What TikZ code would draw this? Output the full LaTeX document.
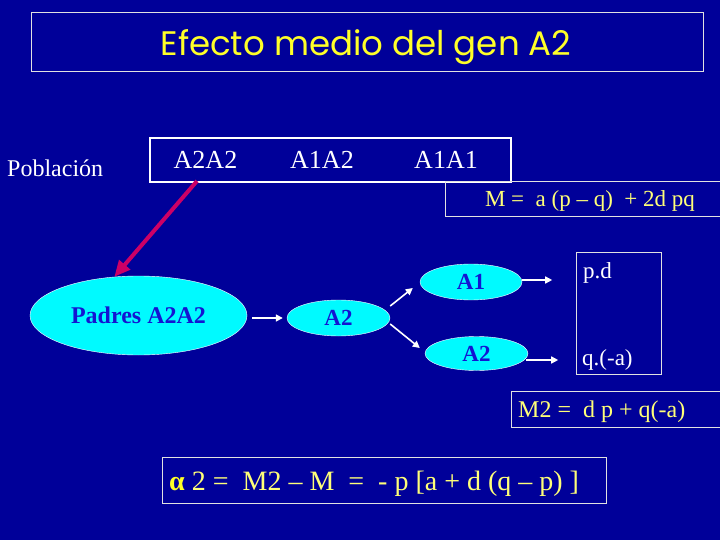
\documentclass[tikz,border=0pt]{standalone}
\usepackage{fontspec}
\setmainfont{Liberation Serif}
\newfontfamily\titlefont{Poppins}
\usetikzlibrary{shapes.geometric,arrows.meta}
\definecolor{bgblue}{RGB}{0,0,153}
\definecolor{ecyan}{RGB}{0,250,255}
\definecolor{eblue}{RGB}{20,20,210}
\definecolor{tyellow}{RGB}{255,255,40}
\definecolor{fyellow}{RGB}{255,255,120}
\definecolor{lineclr}{RGB}{225,225,225}
\definecolor{magarrow}{RGB}{204,0,102}
\newcommand{\fsz}[1]{\fontsize{#1}{#1}\selectfont}
\tikzset{
 thinbox/.style={draw=lineclr, line width=1pt, inner sep=0pt, rectangle},
 popbox/.style={draw=white, line width=2.5pt, inner sep=0pt, rectangle},
 oval/.style={ellipse, fill=ecyan, draw=white, line width=0.4pt, inner sep=0pt, text=eblue, font=\bfseries\fsz{23}},
 wtext/.style={text=white, inner sep=0pt},
 ytext/.style={text=fyellow, inner sep=0pt},
 warrow/.style={draw=white, line width=1.6pt, -{Triangle[length=7pt,width=7pt]}},
}
\begin{document}
\begin{tikzpicture}[x=1pt,y=-1pt]
\fill[bgblue] (0,0) rectangle (720,540);
\useasboundingbox (0,0) rectangle (720,540);
% title
\node[thinbox, minimum width=672pt, minimum height=59pt] (titlebox) at (367,42.5) {};
\node[text=tyellow, font=\titlefont\fsz{34}, inner sep=0pt, anchor=base] (title) at (366,56) {Efecto medio del gen A2};
% population
\node[wtext, font=\fsz{24}, anchor=base west] (pob) at (7,177) {Población};
\node[popbox, minimum width=361pt, minimum height=44pt] (popb) at (330.5,160) {};
\node[wtext, font=\fsz{26}, anchor=base] (g22) at (205.5,169) {A2A2};
\node[wtext, font=\fsz{26}, anchor=base] (g12) at (322,169) {A1A2};
\node[wtext, font=\fsz{26}, anchor=base] (g11) at (446,169) {A1A1};
% M formula
\node[thinbox, minimum width=300pt, minimum height=35pt, anchor=north west] (mbox) at (445,181) {};
\node[ytext, font=\fsz{23}, anchor=base] (mtext) at (590,207) {M =\ \ a (p – q)\ \ + 2d pq};
% ellipses
\node[oval, minimum width=217pt, minimum height=79pt, font=\bfseries\fsz{24}] (padres) at (138.5,315.5) {Padres A2A2};
\node[oval, minimum width=103pt, minimum height=36pt] (mid) at (338.5,318) {A2};
\node[oval, minimum width=102pt, minimum height=36pt] (a1) at (471,282) {A1};
\node[oval, minimum width=103pt, minimum height=34pt] (a2b) at (476.5,353.5) {A2};
% magenta arrow
\coordinate (magstart) at (197,181);
\draw[magarrow, line width=4pt, -{Triangle[length=16pt,width=14pt]}] (magstart) -- (padres.122);
% white arrows
\draw[warrow] ([shift={(5,2.5)}]padres.east) -- ([shift={(-4,0)}]mid.west);
\draw[warrow] ([shift={(0,-12)}]mid.east) -- ([shift={(-7,6)}]a1.west);
\draw[warrow] ([shift={(0,6)}]mid.east) -- ([shift={(-5,-5.5)}]a2b.west);
\draw[warrow] ([shift={(0,-2)}]a1.east) -- ++(30,0);
\draw[warrow] ([shift={(-2,6.5)}]a2b.east) -- ++(32,0);
% result box
\node[thinbox, minimum width=85pt, minimum height=122pt] (pdbox) at (618.5,313) {};
\node[wtext, font=\fsz{23}, anchor=base west] (pd) at (583,278) {p.d};
\node[wtext, font=\fsz{23}, anchor=base west] (qa) at (582,365) {q.(-a)};
% M2 box
\node[thinbox, minimum width=230pt, minimum height=36pt, anchor=north west] (m2box) at (511,391) {};
\node[ytext, font=\fsz{24}, anchor=base west] (m2text) at (518,417) {M2 =\ \ d p + q(-a)};
% alpha box
\node[thinbox, minimum width=444pt, minimum height=46pt] (abox) at (384,480) {};
\node[ytext, font=\fsz{28}, anchor=base west] (atext) at (169,490) {{\bfseries\color{tyellow}α} 2 =\ \ M2 – M\ \ =\ \ - p [a + d (q – p) ]};
\end{tikzpicture}
\end{document}
